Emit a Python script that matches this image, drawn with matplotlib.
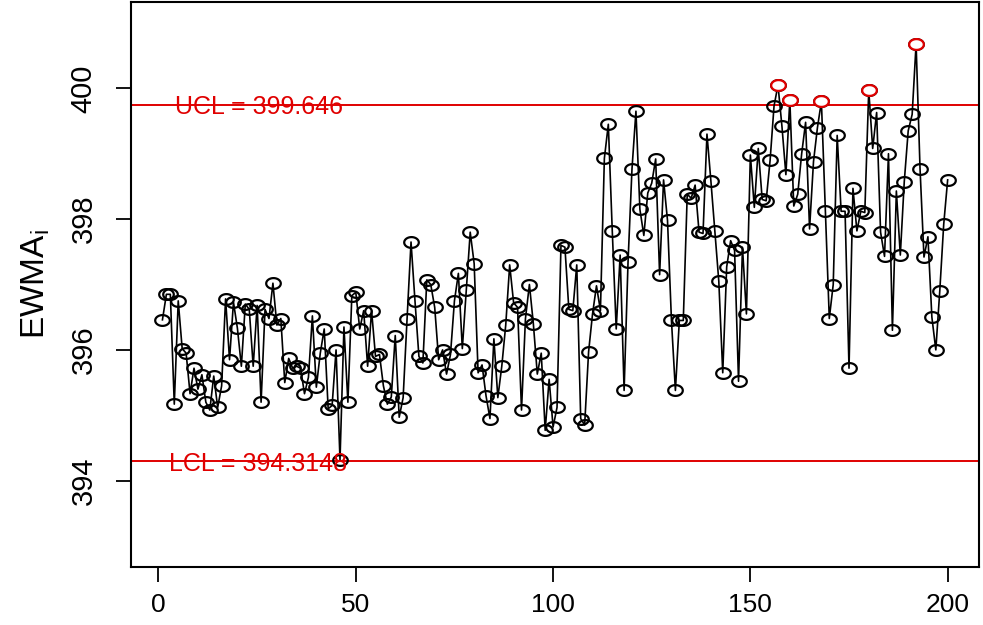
import numpy as np
import matplotlib
matplotlib.use('Agg')
import matplotlib.pyplot as plt
from matplotlib.path import Path

plt.rcParams['font.family'] = ['Liberation Sans', 'DejaVu Sans']
plt.rcParams['mathtext.fontset'] = 'custom'
plt.rcParams['mathtext.rm'] = 'Liberation Sans'

# EWMA statistic for samples 1..200
ewma = [396.46, 396.85, 396.85, 395.17, 396.75, 396.02, 395.95, 395.33, 395.72, 395.40,
        395.62, 395.20, 395.08, 395.60, 395.12, 395.45, 396.78, 395.85, 396.73, 396.33,
        395.75, 396.70, 396.62, 395.75, 396.68, 395.20, 396.62, 396.48, 397.02, 396.38,
        396.48, 395.50, 395.87, 395.72, 395.75, 395.72, 395.33, 395.58, 396.52, 395.43,
        395.95, 396.32, 395.10, 395.15, 396.00, 394.32, 396.35, 395.20, 396.83, 396.88,
        396.32, 396.60, 395.75, 396.60, 395.90, 395.93, 395.45, 395.17, 395.28, 396.22,
        394.97, 395.27, 396.48, 397.65, 396.75, 395.90, 395.80, 397.07, 397.00, 396.65,
        395.85, 396.00, 395.63, 395.93, 396.75, 397.17, 396.02, 396.92, 397.80, 397.32,
        395.65, 395.77, 395.30, 394.95, 396.17, 395.27, 395.75, 396.38, 397.30, 396.72,
        396.65, 395.08, 396.48, 397.00, 396.40, 395.63, 395.95, 394.77, 395.55, 394.82,
        395.12, 397.60, 397.57, 396.62, 396.60, 397.30, 394.95, 394.85, 395.97, 396.55,
        396.98, 396.60, 398.93, 399.45, 397.82, 396.32, 397.45, 395.38, 397.35, 398.77,
        399.65, 398.15, 397.75, 398.40, 398.55, 398.92, 397.15, 398.60, 397.98, 396.45,
        395.38, 396.45, 396.45, 398.38, 398.32, 398.52, 397.80, 397.78, 399.30, 398.58,
        397.82, 397.05, 395.65, 397.27, 397.67, 397.52, 395.52, 397.57, 396.55, 398.98,
        398.18, 399.08, 398.30, 398.28, 398.90, 399.73, 400.05, 399.42, 398.68, 399.82,
        398.20, 398.38, 399.00, 399.48, 397.85, 398.88, 399.40, 399.80, 398.12, 396.48,
        397.00, 399.28, 398.12, 398.12, 395.72, 398.47, 397.82, 398.12, 398.10, 399.97,
        399.08, 399.63, 397.80, 397.43, 399.00, 396.30, 398.43, 397.45, 398.57, 399.35,
        399.60, 400.68, 398.77, 397.42, 397.73, 396.50, 396.00, 396.90, 397.92, 398.60]
sample = np.arange(1, len(ewma) + 1)

ucl = 399.75
lcl = 394.30
ucl_label = 'UCL = 399.646'
lcl_label = 'LCL = 394.3148'

ewma = np.array(ewma)
out = ewma > ucl
red = '#e00000'

# slightly flattened circle, like the original
t = np.linspace(0, 2 * np.pi, 60)
ell = Path(np.column_stack([np.cos(t), 0.74 * np.sin(t)]), closed=True)

fig = plt.figure(figsize=(9.83, 6.25), dpi=100)
ax = fig.add_axes([0.1333, 0.0928, 0.8627, 0.904])

ax.axhline(ucl, color=red, lw=1.4, zorder=1)
ax.axhline(lcl, color=red, lw=1.4, zorder=1)
ax.plot(sample, ewma, color='black', lw=1.2, marker=ell, ms=10.5,
        mfc='none', mec='black', mew=1.6, zorder=2)
ax.plot(sample[out], ewma[out], ls='none', marker=ell, ms=10.5,
        mfc='white', mec=red, mew=1.6, zorder=3)

ax.text(25.5, ucl, ucl_label, color=red, fontsize=18, ha='center', va='center_baseline', zorder=4)
ax.text(25.3, lcl, lcl_label, color=red, fontsize=18, ha='center', va='center_baseline', zorder=4)

ax.set_xlim(-6.96, 207.96)
ax.set_ylim(392.68, 401.32)
ax.set_xticks([0, 50, 100, 150, 200])
ax.set_yticks([394, 396, 398, 400])
ax.tick_params(labelsize=19, length=11, width=1.3, pad=8)
ax.tick_params(axis='y', labelsize=21, pad=13)
plt.setp(ax.get_yticklabels(), rotation=90, va='center')
ax.set_ylabel(r'EWMA$_\mathrm{i}$', fontsize=24, labelpad=13)
for s in ax.spines.values():
    s.set_linewidth(1.5)

fig.savefig('out.png', dpi=100)
